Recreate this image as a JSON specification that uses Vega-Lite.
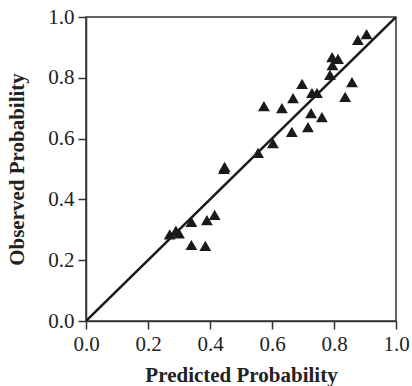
{
  "$schema": "https://vega.github.io/schema/vega-lite/v6.json",
  "width": 310,
  "height": 304,
  "autosize": {"type": "none"},
  "padding": {"left": 86, "top": 17, "right": 16, "bottom": 65},
  "background": "white",
  "config": {
    "view": {"stroke": "#333", "strokeWidth": 1.5},
    "font": "Liberation Serif",
    "axis": {
      "grid": false,
      "domainColor": "#333",
      "domainWidth": 1.5,
      "tickColor": "#333",
      "tickWidth": 1.5,
      "tickSize": 8,
      "labelFont": "Liberation Serif",
      "labelFontSize": 21,
      "labelColor": "#222",
      "titleFont": "Liberation Serif",
      "titleFontSize": 21,
      "titleFontWeight": "bold",
      "titleColor": "#222"
    }
  },
  "datasets": {
    "pts": [
      {"pred": 0.27, "obs": 0.285},
      {"pred": 0.29, "obs": 0.297},
      {"pred": 0.30, "obs": 0.288},
      {"pred": 0.34, "obs": 0.25},
      {"pred": 0.385, "obs": 0.247},
      {"pred": 0.34, "obs": 0.326},
      {"pred": 0.39, "obs": 0.332},
      {"pred": 0.415, "obs": 0.349},
      {"pred": 0.445, "obs": 0.50},
      {"pred": 0.447, "obs": 0.507},
      {"pred": 0.555, "obs": 0.553},
      {"pred": 0.603, "obs": 0.585},
      {"pred": 0.664, "obs": 0.622},
      {"pred": 0.716, "obs": 0.638},
      {"pred": 0.726, "obs": 0.684},
      {"pred": 0.761, "obs": 0.671},
      {"pred": 0.574, "obs": 0.707},
      {"pred": 0.632, "obs": 0.70},
      {"pred": 0.668, "obs": 0.733},
      {"pred": 0.697, "obs": 0.78},
      {"pred": 0.729, "obs": 0.75},
      {"pred": 0.745, "obs": 0.75},
      {"pred": 0.836, "obs": 0.737},
      {"pred": 0.858, "obs": 0.786},
      {"pred": 0.787, "obs": 0.81},
      {"pred": 0.794, "obs": 0.868},
      {"pred": 0.813, "obs": 0.862},
      {"pred": 0.795, "obs": 0.842},
      {"pred": 0.877, "obs": 0.925},
      {"pred": 0.905, "obs": 0.944}
    ],
    "diag": [
      {"pred": 0, "obs": 0},
      {"pred": 1, "obs": 1}
    ]
  },
  "layer": [
    {
      "data": {"name": "diag"},
      "mark": {"type": "line", "color": "#1a1a1a", "strokeWidth": 2.5, "clip": true},
      "encoding": {
        "x": {"field": "pred", "type": "quantitative"},
        "y": {"field": "obs", "type": "quantitative"}
      }
    },
    {
      "data": {"name": "pts"},
      "mark": {"type": "point", "shape": "triangle-up", "filled": true, "color": "#1a1a1a", "opacity": 1, "size": 140},
      "encoding": {
        "x": {
          "field": "pred", "type": "quantitative",
          "scale": {"domain": [0, 1], "nice": false, "zero": false},
          "axis": {
            "title": "Predicted Probability",
            "titlePadding": 10,
            "values": [0, 0.1, 0.2, 0.3, 0.4, 0.5, 0.6, 0.7, 0.8, 0.9, 1.0],
            "labelExpr": "round(datum.value*10) % 2 == 0 ? format(datum.value, '.1f') : ''",
            "labelPadding": 4,
            "labelFlush": false,
            "labelOverlap": false
          }
        },
        "y": {
          "field": "obs", "type": "quantitative",
          "scale": {"domain": [0, 1], "nice": false, "zero": false},
          "axis": {
            "title": "Observed Probability",
            "titlePadding": 20,
            "values": [0, 0.1, 0.2, 0.3, 0.4, 0.5, 0.6, 0.7, 0.8, 0.9, 1.0],
            "labelExpr": "round(datum.value*10) % 2 == 0 ? format(datum.value, '.1f') : ''",
            "labelPadding": 4,
            "labelFlush": false,
            "labelOverlap": false
          }
        }
      }
    }
  ]
}
